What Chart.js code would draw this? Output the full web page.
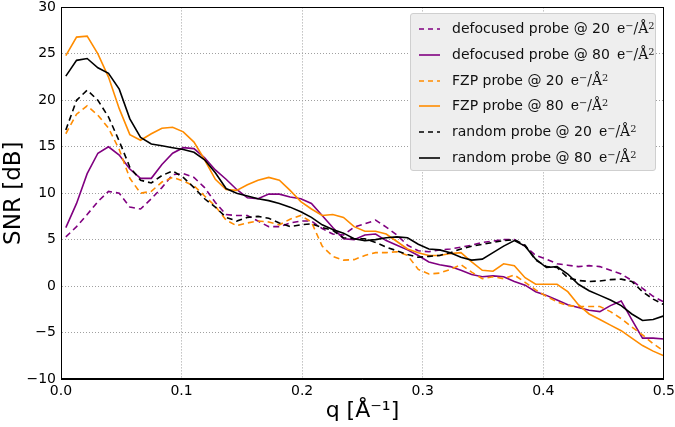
<!DOCTYPE html>
<html>
  <head>
    <title>SNR vs q</title>
    <style>
      body { margin: 0; background: #fff; }
      #wrap { position: relative; width: 675px; height: 427px; overflow: hidden; }
      #canvas { position: absolute; left: 0; top: -6px; }
      #legend {
        position: absolute; left: 410px; top: 13px; width: 246px; height: 158px;
        background: #eeeeee; border: 1px solid #cfcfcf; border-radius: 3px;
        box-sizing: border-box; padding-top: 2px;
        font-family: "DejaVu Sans", sans-serif; font-size: 14px; color: #111;
      }
      #legend .row { position: relative; height: 25.8px; line-height: 25.8px; white-space: nowrap; }
      #legend svg { position: absolute; left: 8px; top: 11px; }
      #legend .txt { position: absolute; left: 41px; top: 0; }
      #legend .m { font-family: "DejaVu Serif", serif; margin-left: 7px; }
      #legend sup { font-size: 70%; line-height: 0; vertical-align: 0.45em; }
    </style>
  </head>

  <body>
    <div id="wrap">
      <canvas id="canvas" width="679" height="433"></canvas>
      <div id="legend"></div>
    </div>

    <script src="https://cdn.jsdelivr.net/npm/chart.js@4"></script>
    <script>
      // q values (A^-1)
      const q = [0.0040, 0.0129, 0.0217, 0.0306, 0.0394, 0.0483, 0.0571, 0.0660, 0.0749, 0.0837,
        0.0926, 0.1014, 0.1103, 0.1191, 0.1280, 0.1369, 0.1457, 0.1546, 0.1634, 0.1723,
        0.1811, 0.1900, 0.1989, 0.2077, 0.2166, 0.2254, 0.2343, 0.2431, 0.2520, 0.2609,
        0.2697, 0.2786, 0.2874, 0.2963, 0.3051, 0.3140, 0.3229, 0.3317, 0.3406, 0.3494,
        0.3583, 0.3671, 0.3760, 0.3849, 0.3937, 0.4026, 0.4114, 0.4203, 0.4291, 0.4380,
        0.4469, 0.4557, 0.4646, 0.4734, 0.4823, 0.4911, 0.5000];

      // SNR [dB]
      const defocused20 = [5.3, 6.4, 7.7, 9.1, 10.2, 10.0, 8.5, 8.3, 9.4, 10.6,
        12.0, 12.1, 11.7, 10.6, 9.0, 7.7, 7.6, 7.6, 7.0, 6.4,
        6.4, 6.8, 7.0, 7.0, 6.2, 5.6, 5.5, 6.35, 6.7, 7.1,
        6.35, 5.5, 4.4, 3.8, 3.7, 3.9, 4.0, 4.2, 4.4, 4.7,
        4.85, 5.0, 5.0, 4.3, 3.3, 2.9, 2.4, 2.25, 2.1, 2.2,
        2.1, 1.7, 1.3, 0.6, -0.25, -1.1, -1.7];
      const defocused80 = [6.3, 8.9, 12.1, 14.3, 15.0, 14.1, 12.6, 11.6, 11.6, 13.1,
        14.3, 14.9, 14.8, 13.8, 12.5, 11.5, 10.4, 9.5, 9.4, 9.9,
        9.9, 9.6, 9.4, 8.9, 7.6, 6.3, 5.1, 5.0, 5.5, 5.6,
        4.9, 4.4, 3.9, 3.3, 2.6, 2.3, 2.1, 1.7, 1.25, 1.0,
        1.1, 1.0, 0.5, 0.1, -0.6, -1.0, -1.5, -2.0, -2.3, -2.6,
        -2.75, -2.1, -1.6, -3.6, -5.6, -5.6, -5.7];
      const fzp20 = [16.4, 18.5, 19.4, 18.4, 17.0, 14.7, 11.6, 10.0, 10.2, 11.2,
        11.7, 11.3, 10.8, 9.7, 8.6, 7.1, 6.5, 6.8, 7.0, 6.9,
        6.6, 7.2, 7.6, 6.9, 4.3, 3.2, 2.8, 2.85, 3.3, 3.6,
        3.6, 3.7, 3.3, 1.8, 1.3, 1.4, 1.8, 2.3, 1.5, 0.8,
        1.0, 0.8, 1.2, 0.4, -0.4, -1.1, -1.7, -2.1, -2.2, -2.2,
        -2.2, -2.75, -3.5, -4.4, -5.25, -6.2, -7.0];
      const fzp80 = [24.8, 26.8, 26.9, 25.0, 22.5, 19.1, 16.3, 15.7, 16.4, 17.0,
        17.1, 16.6, 15.5, 13.6, 11.5, 10.4, 10.3, 10.9, 11.4, 11.7,
        11.4, 10.3, 9.1, 8.3, 7.6, 7.7, 7.4, 6.4, 5.9, 5.9,
        5.6, 4.8, 4.0, 3.6, 3.3, 3.3, 3.5, 3.6, 2.6, 1.7,
        1.6, 2.4, 2.2, 0.9, 0.2, 0.2, 0.2, -0.6, -2.0, -3.0,
        -3.6, -4.2, -4.8, -5.6, -6.4, -7.0, -7.5];
      const random20 = [16.8, 20.0, 21.1, 20.0, 18.2, 15.6, 12.8, 11.4, 11.1, 11.9,
        12.4, 11.7, 10.6, 9.4, 8.5, 7.4, 7.0, 7.4, 7.5, 7.3,
        6.8, 6.4, 6.6, 6.7, 6.3, 6.0, 5.2, 5.1, 5.1, 4.7,
        4.2, 3.8, 3.4, 3.1, 3.2, 3.3, 3.6, 4.0, 4.3, 4.5,
        4.7, 4.9, 5.0, 4.4, 2.8, 2.1, 2.0, 0.9, 0.6, 0.5,
        0.55, 0.7, 0.75, 0.5, -0.6, -1.4, -2.0];
      const random80 = [22.6, 24.3, 24.5, 23.5, 22.9, 21.2, 18.0, 16.0, 15.3, 15.1,
        14.9, 14.7, 14.4, 13.6, 12.2, 10.5, 10.0, 9.7, 9.4, 9.2,
        8.9, 8.5, 8.0, 7.4, 6.6, 6.1, 5.7, 5.1, 4.9, 5.0,
        5.2, 5.3, 5.2, 4.5, 4.0, 3.9, 3.6, 3.1, 2.8, 2.9,
        3.6, 4.3, 4.9, 4.3, 2.9, 2.0, 2.1, 1.3, 0.2, -0.5,
        -1.0, -1.5, -2.1, -3.0, -3.7, -3.6, -3.2];

      const probes = ["defocused probe", "defocused probe", "FZP probe", "FZP probe", "random probe", "random probe"];
      const doses = [20, 80, 20, 80, 20, 80];
      const colors = ["#800080", "#800080", "#ff8c00", "#ff8c00", "#000000", "#000000"];
      const seriesData = [defocused20, defocused80, fzp20, fzp80, random20, random80];

      const font = { family: "'DejaVu Sans', sans-serif", size: 14 };

      // frame round the plot area (matplotlib box)
      const frame = {
        id: "frame",
        afterDraw(chart) {
          const a = chart.chartArea;
          const c = chart.ctx;
          c.save();
          c.strokeStyle = "#000";
          c.lineWidth = 1;
          c.strokeRect(Math.round(a.left) + 0.5, Math.round(a.top) + 0.5,
            Math.round(a.right - a.left) - 1, Math.round(a.bottom - a.top) - 1);
          c.restore();
        },
      };

      const datasets = seriesData.map((vals, i) => ({
        label: probes[i] + " @ " + doses[i],
        data: vals.map((v, j) => ({ x: q[j], y: v })),
        borderColor: colors[i],
        borderWidth: 1.6,
        borderDash: doses[i] === 20 ? [6, 4] : [],
        pointRadius: 0,
        tension: 0,
        fill: false,
        order: seriesData.length - i,
      }));

      var ctx = document.getElementById("canvas").getContext("2d");
      var chart = new Chart(ctx, {
        type: "line",
        data: { datasets: datasets },
        options: {
          responsive: false,
          animation: false,
          layout: { padding: { top: 6, right: 12, left: 0, bottom: 0 } },
          plugins: { legend: { display: false }, tooltip: { enabled: false } },
          scales: {
            x: {
              type: "linear",
              min: 0,
              max: 0.5,
              ticks: { stepSize: 0.1, callback: (v) => v.toFixed(1), font: font, color: "#000", padding: 4, maxRotation: 0 },
              grid: { color: "#a0a0a0", lineWidth: 1, drawTicks: false },
              border: { display: true, color: "#000", dash: [1, 2] },
              title: { display: true, text: "q [Å⁻¹]", color: "#000", font: { family: "'DejaVu Sans', sans-serif", size: 22 }, padding: { top: 0, bottom: 3 } },
              afterFit: (s) => { s.height = 48; },
            },
            y: {
              min: -10,
              max: 30,
              ticks: { stepSize: 5, callback: (v) => String(v).replace("-", "\u2212"), font: font, color: "#000", padding: 5 },
              grid: { color: "#a0a0a0", lineWidth: 1, drawTicks: false },
              border: { display: true, color: "#000", dash: [1, 2] },
              title: { display: true, text: "SNR [dB]", color: "#000", font: { family: "'DejaVu Sans', sans-serif", size: 23 }, padding: { top: 0, bottom: 0 } },
              afterFit: (s) => { s.width = 61; },
            },
          },
        },
        plugins: [frame],
      });

      // legend inside the axes, upper right
      const legend = document.getElementById("legend");
      seriesData.forEach((_, i) => {
        const row = document.createElement("div");
        row.className = "row";
        const dash = doses[i] === 20 ? ' stroke-dasharray="5,4"' : "";
        row.innerHTML =
          '<svg width="21" height="4"><line x1="0" y1="2" x2="21" y2="2" stroke="' + colors[i] +
          '" stroke-width="1.6"' + dash + '/></svg>' +
          '<span class="txt">' + probes[i] + " @ " + doses[i] +
          '<span class="m">e<sup>−</sup>/Å<sup>2</sup></span></span>';
        legend.appendChild(row);
      });
    </script>
  </body>
</html>
